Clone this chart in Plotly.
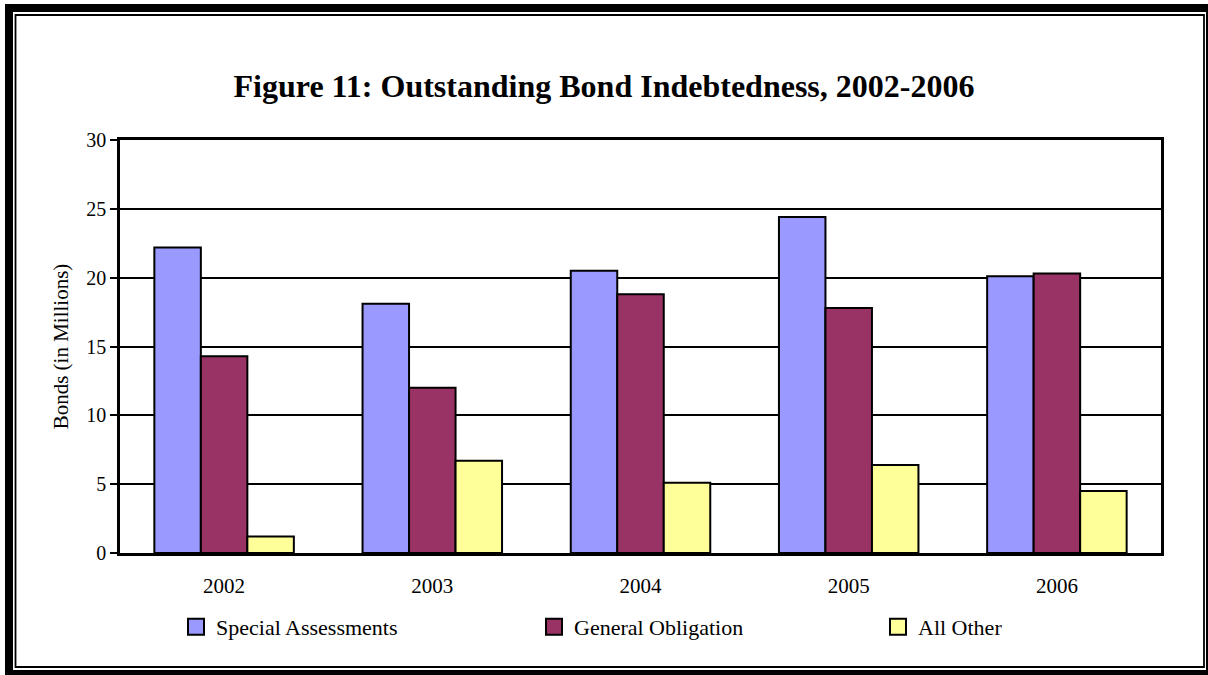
import plotly.graph_objects as go

years = ["2002", "2003", "2004", "2005", "2006"]
special_assessments = [22.2, 18.1, 20.5, 24.4, 20.1]
general_obligation = [14.3, 12.0, 18.8, 17.8, 20.3]
all_other = [1.2, 6.7, 5.1, 6.4, 4.5]

series_names = ["Special Assessments", "General Obligation", "All Other"]
series_colors = ["#9999FF", "#993366", "#FFFF99"]
y_ticks = [0, 5, 10, 15, 20, 25, 30]

W, H = 1208, 675
L, R, T, B = 120, 47, 140, 122
PW, PH = W - L - R, H - T - B
FONT = "Liberation Serif, Times New Roman, serif"


def px(x):
    return (x - L) / PW


def py(y):
    return (H - B - y) / PH


fig = go.Figure()
series_values = [special_assessments, general_obligation, all_other]
for i, (name, vals, col) in enumerate(zip(series_names, series_values, series_colors)):
    leg = "legend" if i == 0 else f"legend{i+1}"
    fig.add_trace(go.Bar(
        x=years, y=vals, name=name, showlegend=False, legendgroup=name,
        marker=dict(color=col, line=dict(color="black", width=2)),
    ))
    # legend-only entry with a larger square key, as in the original
    fig.add_trace(go.Scatter(
        x=[None], y=[None], mode="markers", name=name, legendgroup=name,
        showlegend=True, legend=leg, hoverinfo="skip",
        marker=dict(symbol="square", size=16, color=col,
                    line=dict(color="black", width=2)),
    ))

marker_centers = [201, 559, 903]
legend_common = dict(orientation="h", yanchor="middle", y=py(627), xanchor="left",
                     font=dict(family=FONT, size=22, color="black"),
                     bgcolor="rgba(0,0,0,0)", borderwidth=0, visible=True,
                     itemwidth=30)

fig.update_layout(
    width=W, height=H,
    margin=dict(l=L, r=R, t=T, b=B),
    paper_bgcolor="white", plot_bgcolor="white",
    showlegend=True,
    barmode="group", bargap=0.33, bargroupgap=0,
    title=dict(text="<b>Figure 11: Outstanding Bond Indebtedness, 2002-2006</b>",
               x=0.5, xanchor="center", xref="container",
               y=1 - 86 / H, yanchor="middle", yref="container",
               font=dict(family=FONT, size=32, color="black")),
    legend=dict(**legend_common, x=px(marker_centers[0] - 25)),
    legend2=dict(**legend_common, x=px(marker_centers[1] - 25)),
    legend3=dict(**legend_common, x=px(marker_centers[2] - 25)),
    font=dict(family=FONT, color="black"),
)

fig.update_yaxes(
    range=[0, 30], tickvals=y_ticks,
    showgrid=True, gridcolor="black", gridwidth=1.6,
    showline=True, linecolor="black", linewidth=2.5, mirror=True,
    ticks="outside", ticklen=7, tickwidth=1.8, tickcolor="black",
    tickfont=dict(family=FONT, size=20, color="black"),
    title=dict(text="Bonds (in Millions)", standoff=12,
               font=dict(family=FONT, size=21, color="black")),
    zeroline=False, fixedrange=True,
)
fig.update_xaxes(
    showline=True, linecolor="black", linewidth=2.5, mirror=True,
    ticks="outside", ticklen=12, tickcolor="rgba(0,0,0,0)",
    tickfont=dict(family=FONT, size=21, color="black"),
    showgrid=False, fixedrange=True,
)

# page frame: thick outer line with thin inner line
fig.add_shape(type="rect", xref="paper", yref="paper",
              x0=px(9), x1=px(1210), y0=py(8), y1=py(674),
              line=dict(color="black", width=8), fillcolor="rgba(0,0,0,0)")
fig.add_shape(type="rect", xref="paper", yref="paper",
              x0=px(15.5), x1=px(1204), y0=py(15), y1=py(667),
              line=dict(color="black", width=1.8), fillcolor="rgba(0,0,0,0)")

fig.write_html("out.html",
               config={"displayModeBar": False},
               post_script="document.body.style.margin='0';document.body.style.overflow='hidden';")
